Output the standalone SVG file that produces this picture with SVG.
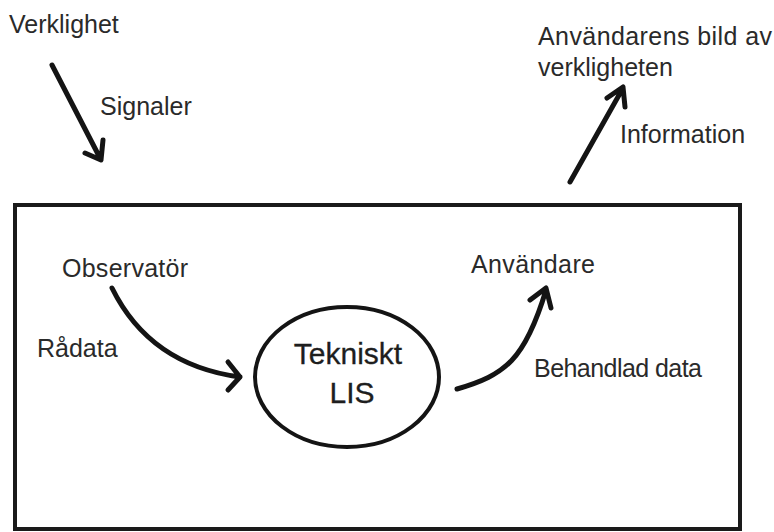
<svg xmlns="http://www.w3.org/2000/svg" width="774" height="532" viewBox="0 0 774 532">
<style>
  text { font-family: "Liberation Sans", Arial, sans-serif; fill: #2a2a2a; font-size: 25px; }
  .ln { fill: none; stroke: #141414; stroke-width: 5; stroke-linecap: round; stroke-linejoin: round; }
  .frame { fill: none; stroke: #1a1a1a; stroke-width: 4; }
  .big { font-size: 30px; text-anchor: middle; fill: #1e1e1e; stroke: #1e1e1e; stroke-width: 0.3; }
</style>
<rect width="774" height="532" fill="#ffffff"/>
<g id="box"><rect class="frame" x="15" y="205" width="725" height="324"/></g>
<g id="verklighet"><text x="9" y="33">Verklighet</text></g>
<g id="anvandarens-bild"><text x="538" y="45" textLength="234">Användarens bild av</text><text x="538" y="76">verkligheten</text></g>
<g id="observator"><text x="62" y="277" textLength="126">Observatör</text></g>
<g id="anvandare"><text x="471" y="273" textLength="124">Användare</text></g>
<g id="lis">
  <ellipse cx="347" cy="377" rx="92" ry="70" fill="none" stroke="#141414" stroke-width="4"/>
  <text class="big" x="348" y="364">Tekniskt</text>
  <text class="big" x="352" y="403">LIS</text>
</g>
<g id="connectors">
  <path class="ln" d="M52,65 L100,158 M85,153 L101,160 L103,140"/>
  <text x="100" y="115" font-size="23">Signaler</text>
  <path class="ln" d="M570,182 L623,88 M607,98 L623,87 L625,107"/>
  <text x="620" y="143" font-size="24">Information</text>
  <path class="ln" d="M112,288 Q150,365 240,377 M228,362 L240,377 L228,390"/>
  <text x="37" y="357" font-size="24">Rådata</text>
  <path class="ln" d="M457,389 C505,375 525,360 546,290 M530,300 L546,288 L551,308"/>
  <text x="534" y="377" font-size="24" textLength="168">Behandlad data</text>
</g>
</svg>
